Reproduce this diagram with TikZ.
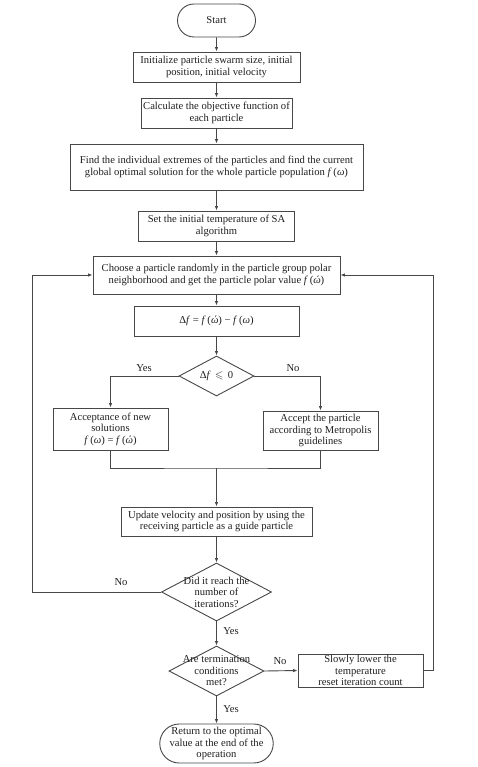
\documentclass[tikz,border=0pt]{standalone}
\usepackage{amssymb}
\usepackage{fontspec}
\setmainfont{Liberation Serif}
\usetikzlibrary{arrows.meta,shapes.geometric,shapes.misc}
\newcommand\myfw{\textit{f}\,(\textit{ω})}
\newcommand\myfwp{\textit{f}\,(\textit{ώ})}
\tikzset{
  ln/.style={line width=0.9pt, draw=black!72},
  txt/.style={font=\fontsize{10.6}{11.5}\selectfont, align=center, text=black!88},
  pbox/.style={ln, txt, rectangle, inner sep=1pt},
  term/.style={ln, txt, rounded rectangle, inner sep=1pt},
  dia/.style={ln, diamond, inner sep=0pt},
  arr/.style={ln, -{Latex[length=4.5pt,width=3.5pt]}},
  lbl/.style={txt}
}
\begin{document}
\begin{tikzpicture}[x=1pt,y=-1pt]
\useasboundingbox (0,0) rectangle (478,767);
\node[term, minimum width=80, minimum height=33] (start) at (216.5,20.5) {Start};
\node[pbox, minimum width=167, minimum height=30] (init) at (216.5,67) {Initialize particle swarm size, initial\\position, initial velocity};
\node[pbox, minimum width=151, minimum height=30] (calc) at (216.5,113) {Calculate the objective function of\\each particle};
\node[pbox, minimum width=293, minimum height=46] (find) at (216.5,167) {Find the individual extremes of the particles and find the current\\global optimal solution for the whole particle population \myfw};
\node[pbox, minimum width=156, minimum height=30] (set) at (216.5,226) {Set the initial temperature of SA\\algorithm};
\node[pbox, minimum width=247, minimum height=38] (choose) at (216.5,275) {Choose a particle randomly in the particle group polar\\neighborhood and get the particle polar value \myfwp};
\node[pbox, minimum width=165, minimum height=30] (df) at (216.5,321) {Δ\textit{f} = \myfwp\ − \myfw};
\node[dia, minimum width=75, minimum height=40] (d1) at (216.5,376) {};
\node[txt] (t1) at (d1) {Δ\textit{f}\, $\leqslant$\, 0};
\node[pbox, minimum width=115, minimum height=42] (acc) at (110.5,429) {Acceptance of new\\solutions\\\myfw\ = \myfwp};
\node[pbox, minimum width=115, minimum height=39] (met) at (320.5,430.5) {Accept the particle\\according to Metropolis\\guidelines};
\coordinate (mrg) at (216.5,468);
\node[pbox, minimum width=191, minimum height=29] (upd) at (216.5,521.5) {Update velocity and position by using the\\receiving particle as a guide particle};
\node[dia, minimum width=110, minimum height=58] (d2) at (216.5,592) {};
\node[txt] (t2) at (d2) {Did it reach the\\number of\\iterations?};
\node[dia, minimum width=95, minimum height=50] (d3) at (216.5,671) {};
\node[txt] (t3) at (d3) {Are termination\\conditions\\met?};
\node[pbox, minimum width=125, minimum height=33] (slow) at (360.5,670.5) {Slowly lower the\\temperature\\reset iteration count};
\node[term, minimum width=111, minimum height=39] (ret) at (216.5,743.5) {Return to the optimal\\value at the end of the\\operation};
\coordinate (lft) at (32,592);
\coordinate (rgt) at (433,670.5);

\draw[arr] (start) -- (init);
\draw[arr] (init) -- (calc);
\draw[arr] (calc) -- (find);
\draw[arr] (find) -- (set);
\draw[arr] (set) -- (choose);
\draw[arr] (choose) -- (df);
\draw[arr] (df) -- (d1);
\draw[arr] (d1.west) -| (acc.north);
\draw[arr] (d1.east) -| (met.north);
\draw[ln] (acc.south) |- (mrg) -| (met.south);
\draw[arr] (mrg) -- (upd.north);
\draw[arr] (upd) -- (d2);
\draw[arr] (d2.west) -- (lft) |- (choose.west);
\draw[arr] (d2.south) -- (d3.north);
\draw[arr] (d3.east) -- (slow.west);
\draw[arr] (slow.east) -- (rgt) |- (choose.east);
\draw[arr] (d3.south) -- (ret.north);

\node[lbl] (y1) at (144,368) {Yes};
\node[lbl] (n1) at (293,368) {No};
\node[lbl] (n2) at (121,582) {No};
\node[lbl] (y2) at (231,631) {Yes};
\node[lbl] (n3) at (280,661) {No};
\node[lbl] (y3) at (231,709) {Yes};
\end{tikzpicture}
\end{document}
